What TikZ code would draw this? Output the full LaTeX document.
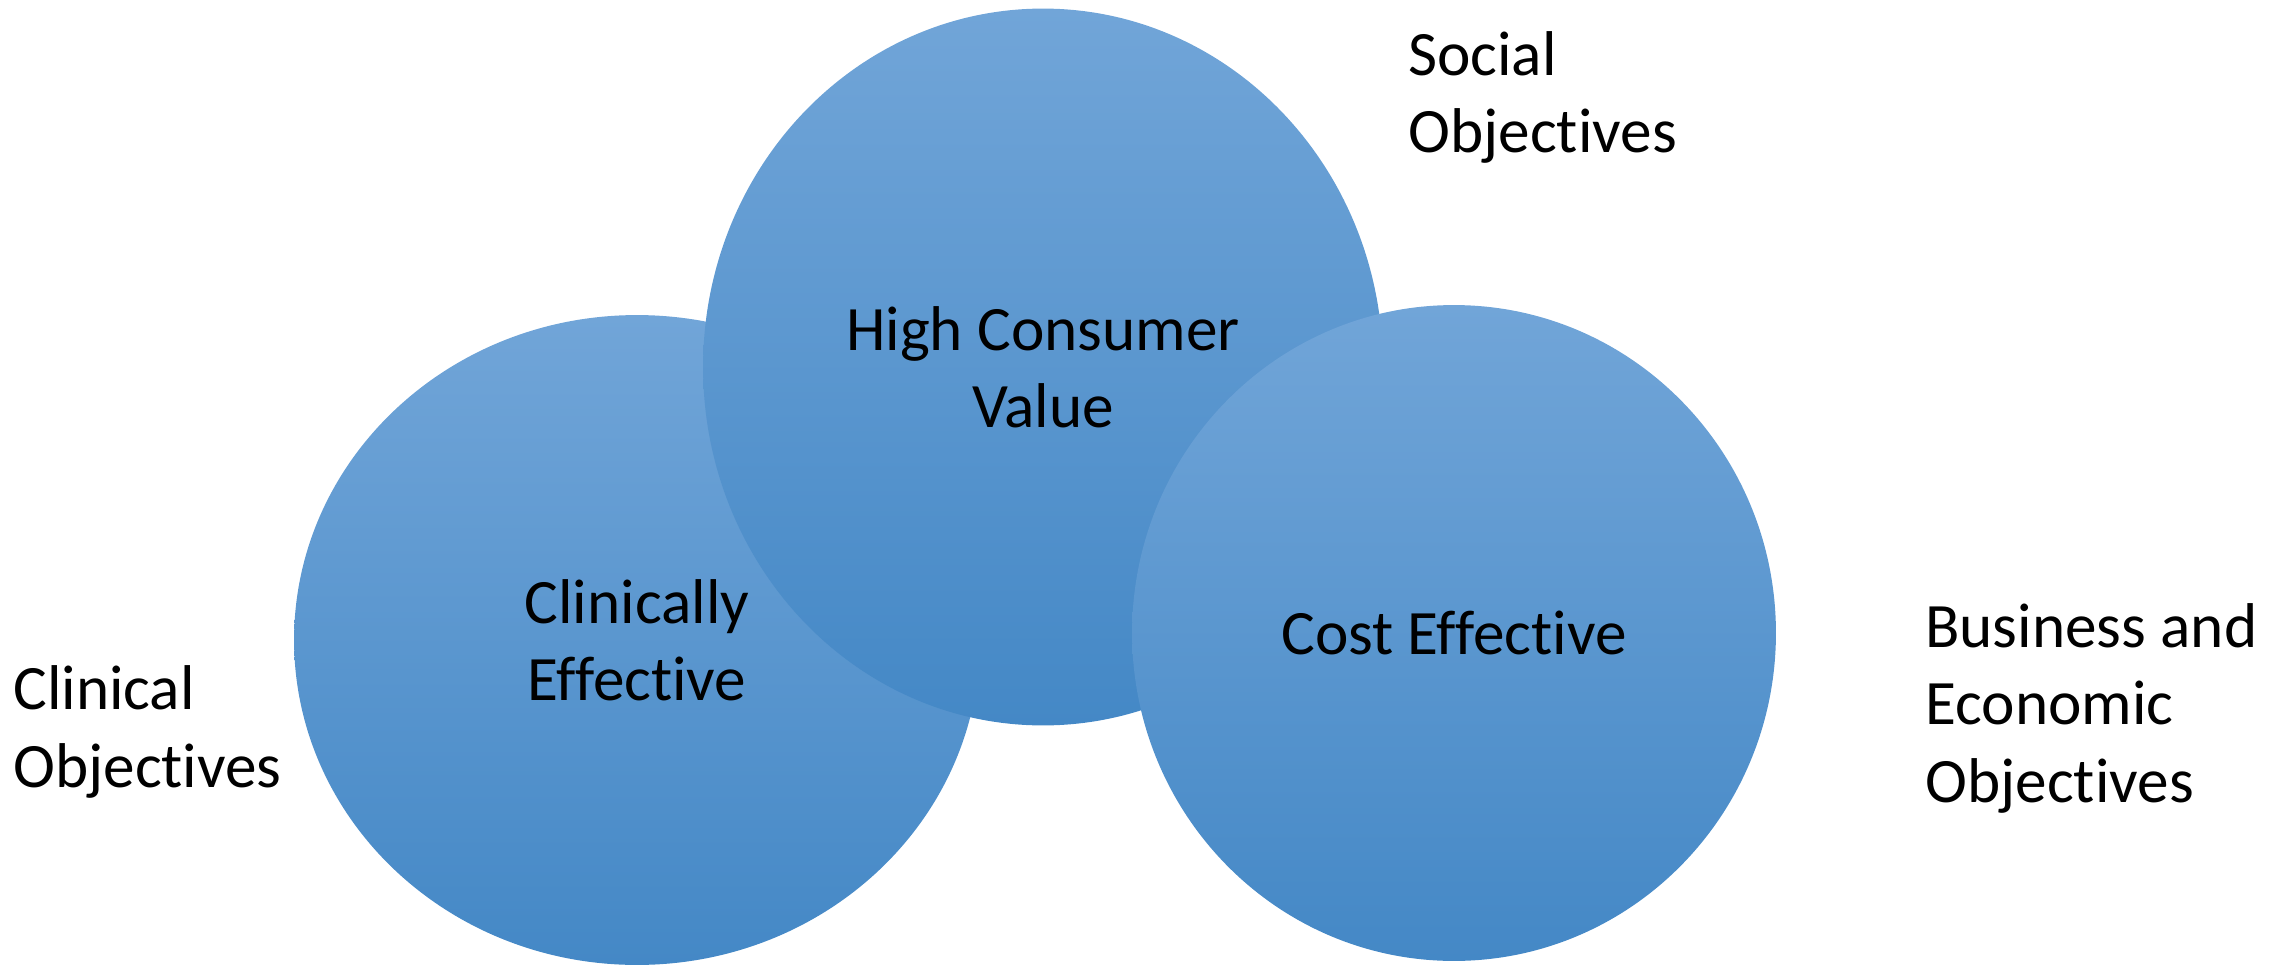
\documentclass[tikz,border=0pt]{standalone}
\usepackage{fontspec}
\setmainfont{Carlito}[Ligatures=NoCommon]
\usepackage{tikz}
\usetikzlibrary{shapes.geometric}
\definecolor{ovaltop}{RGB}{113,165,216}
\definecolor{ovalmid}{RGB}{88,155,219}
\definecolor{ovalbot}{RGB}{68,136,198}
\newcommand{\goalfont}{\fontsize{36}{44}\selectfont}
\tikzset{
  oval/.style={ellipse, inner sep=0pt, outer sep=0pt, top color=ovaltop, middle color=ovalmid,
    bottom color=ovalbot, align=center, font=\goalfont},
  goal/.style={align=left, inner sep=0pt, font=\goalfont}
}

\begin{document}
\begin{tikzpicture}[x=0.02cm, y=-0.02cm]
    \useasboundingbox (0,0) rectangle (2287,966);
    %the three ovals, back to front
    \node[oval, minimum width=13.72cm, minimum height=13cm] (clin) at (637,640) {Clinically\\Effective};
    \node[oval, minimum width=13.6cm, minimum height=14.34cm] (cons) at (1043,367) {High Consumer\\Value};
    \node[oval, minimum width=12.88cm, minimum height=13.12cm] (cost) at (1454,633) {Cost Effective};
    %objectives beside them (anchored on the last line)
    \node[goal, anchor=base west] (social) at (1408,153) {Social\\Objectives};
    \node[goal, anchor=base west] (clinobj) at (13,787) {Clinical\\Objectives};
    \node[goal, anchor=base west] (busobj) at (1925,802) {Business and\\Economic\\Objectives};
\end{tikzpicture}
\end{document}
